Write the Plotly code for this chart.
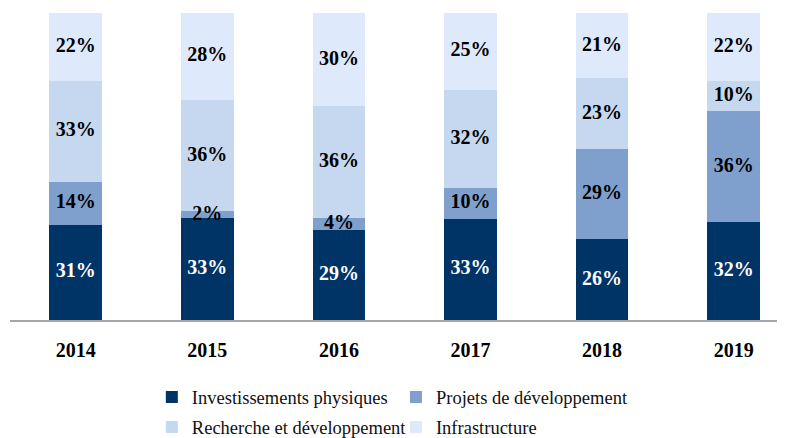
import plotly.graph_objects as go

years = ["2014", "2015", "2016", "2017", "2018", "2019"]
invest = [31, 33, 29, 33, 26, 32]
projets = [14, 2, 4, 10, 29, 36]
recherche = [33, 36, 36, 32, 23, 10]
infra = [22, 28, 30, 25, 21, 22]

# name, values, bar colour, label colour, legend id
series = [
    ("Investissements physiques", invest, "#003366", "white", "legend"),
    ("Projets de développement", projets, "#7F9FCC", "black", "legend2"),
    ("Recherche et développement", recherche, "#C5D8EF", "black", "legend3"),
    ("Infrastructure", infra, "#DEE9FC", "black", "legend4"),
]

totals = [sum(s[1][i] for s in series) for i in range(len(years))]

fig = go.Figure()
base = [0.0] * len(years)
labels = []
for name, vals, color, tcolor, leg in series:
    fig.add_trace(go.Bar(
        x=years, y=vals, name=name,
        marker=dict(color=color, line=dict(width=0)),
        width=0.4,
        hoverinfo="skip",
        legend=leg,
    ))
    # label au milieu de chaque segment normalisé
    share = [v / t * 100 for v, t in zip(vals, totals)]
    mids = [b + s / 2 for b, s in zip(base, share)]
    base = [b + s for b, s in zip(base, share)]
    labels.append((vals, mids, tcolor))

for vals, mids, tcolor in labels:
    fig.add_trace(go.Scatter(
        x=years, y=mids, mode="text",
        text=[f"<b>{v}%</b>" for v in vals],
        textfont=dict(family="Liberation Serif", size=20, color=tcolor),
        showlegend=False, hoverinfo="skip",
    ))

leg_common = dict(
    orientation="h", xanchor="left", yanchor="middle",
    font=dict(family="Liberation Serif", size=18.5, color="#111111"),
    itemwidth=30, bgcolor="rgba(0,0,0,0)",
)

col1, col2 = 0.183, 0.498
row1, row2 = -0.252, -0.350

fig.update_layout(
    barmode="stack",
    barnorm="percent",
    width=777, height=450,
    margin=dict(l=2, r=0, t=5, b=138),
    plot_bgcolor="white", paper_bgcolor="white",
    font=dict(family="Liberation Serif", color="black"),
    legend=dict(x=col1, y=row1, **leg_common),
    legend2=dict(x=col2, y=row1, **leg_common),
    legend3=dict(x=col1, y=row2, **leg_common),
    legend4=dict(x=col2, y=row2, **leg_common),
)
fig.update_xaxes(
    range=[-0.5, 5.39],
    showline=True, linecolor="#A6A6A6", linewidth=1.5,
    ticks="", ticklabelstandoff=11,
    tickfont=dict(family="Liberation Serif", size=20, color="black"),
    tickprefix="<b>", ticksuffix="</b>",
)
fig.update_yaxes(range=[0, 100], visible=False, showgrid=False)

fig.write_html("out.html")
